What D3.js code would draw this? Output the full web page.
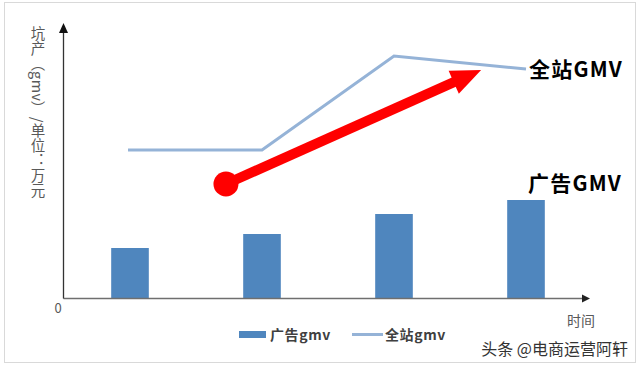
<!DOCTYPE html>
<html><head><meta charset="utf-8">
<script src="https://cdn.jsdelivr.net/npm/d3@7"></script>
<style>
html,body{margin:0;padding:0;background:#fff;}
svg{display:block;font-family:"Noto Sans CJK SC","Noto Sans",sans-serif;}
</style></head>
<body>
<svg id="chart" width="640" height="367"></svg>
<script>
// ---- data (万元) ----
const categories = ["T1", "T2", "T3", "T4"];
const adGmv = [50, 64, 84, 98];          // 广告gmv bars
const siteGmv = [148, 148, 242, 229];    // 全站gmv line
const yMax = 270;
const yTickLabels = ["0"];
const seriesNames = ["广告gmv", "全站gmv"];
const calloutNames = ["全站GMV", "广告GMV"];
const yAxisTitle = "坑产（gmv）/单位：万元";
const xAxisTitle = "时间";
const watermark = "头条 @电商运营阿轩";
// trend arrow annotation in data space: [category index, value]
const trendArrow = [[0.727, 114], [2.66, 228]];

const svg = d3.select("#chart");
const blue = "#4f86be", lineBlue = "#95b3d7", red = "#ff0000";

// frame
svg.append("rect").attr("x", 4.5).attr("y", 2.5).attr("width", 631).attr("height", 360)
  .attr("fill", "#fff").attr("stroke", "#d9d9d9").attr("stroke-width", 1);

const x = d3.scalePoint().domain(categories).range([64, 592]).padding(0.5);
const xi = d3.scaleLinear().domain([0, categories.length - 1]).range([x(categories[0]), x(categories[categories.length - 1])]);
const y = d3.scaleLinear().domain([0, yMax]).range([298, 28]);
const barW = x.step() * 0.285;

// bars
svg.append("g").selectAll("rect").data(adGmv).join("rect")
  .attr("x", (d, i) => x(categories[i]) - barW / 2)
  .attr("y", d => y(d))
  .attr("width", barW)
  .attr("height", d => y(0) - y(d))
  .attr("fill", blue);

// line
const line = d3.line().x((d, i) => x(categories[i]) - (i === 0 ? 2 : 0)).y(d => y(d));
svg.append("path").datum(siteGmv).attr("d", line)
  .attr("fill", "none").attr("stroke", lineBlue).attr("stroke-width", 3)
  .attr("stroke-linejoin", "miter");

// axes
const x0 = 63.5, y0 = y(0) + 0.5;
svg.append("line").attr("x1", x0).attr("y1", y0).attr("x2", 584).attr("y2", y0)
  .attr("stroke", "#6f6f6f").attr("stroke-width", 1.3);
svg.append("path").attr("d", `M590,${y0} L582,${y0 - 4} L582,${y0 + 4} Z`).attr("fill", "#222");
svg.append("line").attr("x1", x0).attr("y1", y0).attr("x2", x0).attr("y2", 30)
  .attr("stroke", "#333").attr("stroke-width", 1.3);
svg.append("path").attr("d", `M${x0},23 L${x0 - 4.5},33 L${x0 + 4.5},33 Z`).attr("fill", "#111");

svg.append("g").selectAll("text").data(yTickLabels).join("text")
  .attr("x", 58).attr("y", 313).attr("text-anchor", "middle")
  .attr("font-size", 13).attr("fill", "#595959").text(d => d);

// y axis title (vertical)
svg.append("text").attr("x", 38).attr("y", 26)
  .style("writing-mode", "vertical-rl")
  .attr("font-size", 14.5).attr("fill", "#595959").attr("letter-spacing", 0.5)
  .text(yAxisTitle);

svg.append("text").attr("x", 581).attr("y", 326).attr("text-anchor", "middle")
  .attr("font-size", 14).attr("fill", "#595959").text(xAxisTitle);

// trend arrow
const [p0, p1] = trendArrow.map(([i, v]) => [xi(i), y(v)]);
const ang = Math.atan2(p1[1] - p0[1], p1[0] - p0[0]);
const headLen = 30, headHalf = 12.5;
const bx = p1[0] - headLen * Math.cos(ang), by = p1[1] - headLen * Math.sin(ang);
const nx = -Math.sin(ang), ny = Math.cos(ang);
svg.append("line").attr("x1", p0[0]).attr("y1", p0[1]).attr("x2", bx + 2 * Math.cos(ang)).attr("y2", by + 2 * Math.sin(ang))
  .attr("stroke", red).attr("stroke-width", 10);
svg.append("path")
  .attr("d", `M${p1[0]},${p1[1]} L${bx + nx * headHalf},${by + ny * headHalf} L${bx - nx * headHalf},${by - ny * headHalf} Z`)
  .attr("fill", red);
svg.append("circle").attr("cx", p0[0]).attr("cy", p0[1]).attr("r", 12.5).attr("fill", red);

// callouts
svg.append("text").attr("x", 529).attr("y", 77).attr("font-size", 21).attr("font-weight", "bold")
  .attr("letter-spacing", 1.2).attr("fill", "#000").text(calloutNames[0]);
svg.append("text").attr("x", 528).attr("y", 191).attr("font-size", 21).attr("font-weight", "bold")
  .attr("letter-spacing", 1.2).attr("fill", "#000").text(calloutNames[1]);

// legend
const lg = svg.append("g");
lg.append("rect").attr("x", 239).attr("y", 331).attr("width", 27).attr("height", 7).attr("fill", blue);
lg.append("text").attr("x", 270).attr("y", 340).attr("font-size", 14).attr("font-weight", "bold")
  .attr("letter-spacing", 0.6).attr("fill", "#404040").text(seriesNames[0]);
lg.append("line").attr("x1", 352).attr("x2", 383).attr("y1", 334.5).attr("y2", 334.5)
  .attr("stroke", lineBlue).attr("stroke-width", 3);
lg.append("text").attr("x", 385).attr("y", 340).attr("font-size", 14).attr("font-weight", "bold")
  .attr("letter-spacing", 0.6).attr("fill", "#404040").text(seriesNames[1]);

// watermark
svg.append("text").attr("x", 628).attr("y", 355).attr("text-anchor", "end")
  .attr("font-size", 16).attr("fill", "#333").text(watermark);
</script>
</body></html>
